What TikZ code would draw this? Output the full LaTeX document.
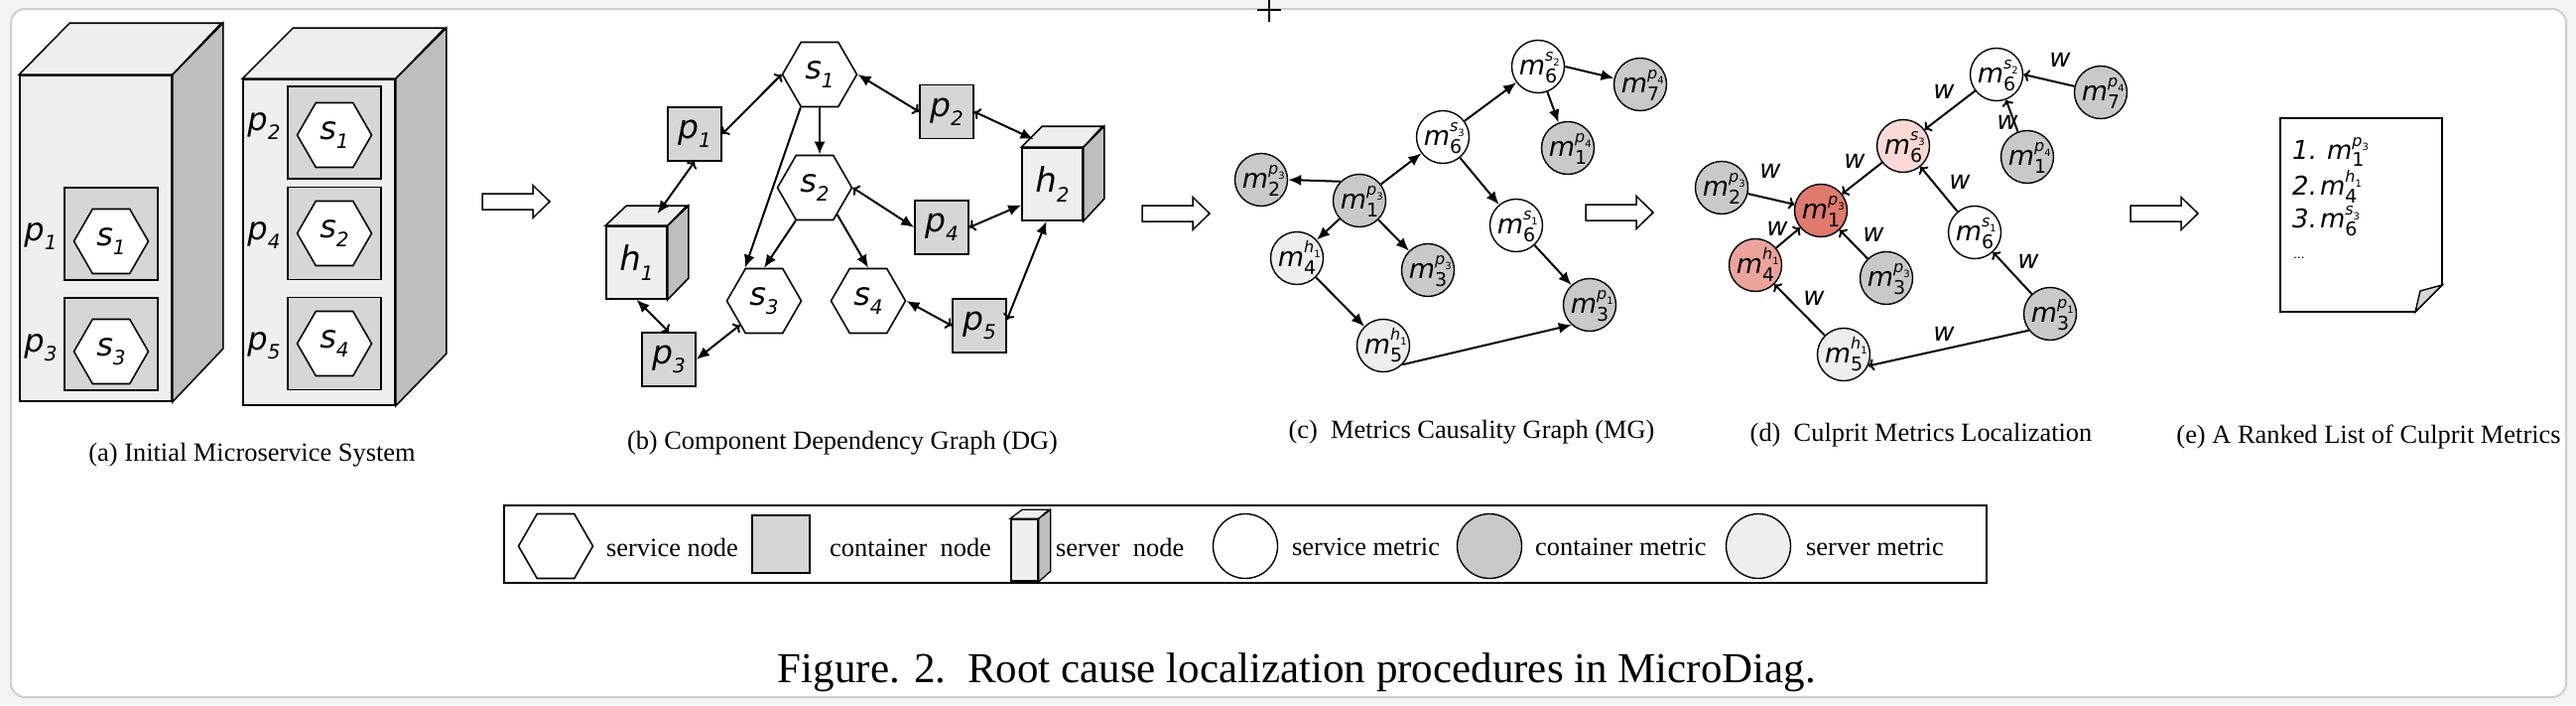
\documentclass[tikz,border=0pt]{standalone}
\usepackage{fontspec}
\setmainfont{Liberation Serif}
\newfontfamily\nf{DejaVu Sans}
\usetikzlibrary{arrows.meta,shapes.geometric}
\definecolor{contc}{HTML}{D6D6D6}
\definecolor{frontc}{HTML}{EFEFEF}
\definecolor{sidec}{HTML}{BEBEBE}
\definecolor{cmetc}{HTML}{C9C9C9}
\definecolor{smetc}{HTML}{EEEEEE}
\definecolor{redA}{HTML}{E07A6E}
\definecolor{redB}{HTML}{EBA39B}
\definecolor{redC}{HTML}{F9D8D6}
\definecolor{framec}{HTML}{CFCFCF}
\definecolor{outerc}{HTML}{F3F3F3}
% label macros
\newcommand{\slab}[2]{{\nf\itshape #1\raisebox{-0.28em}{\fontsize{20}{20}\selectfont #2}}}
\newcommand{\metx}[3]{{\nf\itshape m\makebox[0pt][l]{\raisebox{0.5em}{\fontsize{16}{16}\selectfont #2\raisebox{-0.3em}{\fontsize{10}{10}\selectfont\upshape #3}}}\raisebox{-0.3em}{\fontsize{19}{19}\selectfont\upshape #1}}}
\newcommand{\met}[3]{\makebox[0pt]{\raisebox{-0.3em}[0pt][0pt]{\metx{#1}{#2}{#3}}}}
\tikzset{
  thn/.tip={To[length=6pt,width=12pt]},
  fil/.tip={Latex[length=13pt,width=11pt]},
}
\begin{document}
\begin{tikzpicture}[x=1pt,y=-1pt,
  face/.style={draw, line width=1.6pt, line join=miter},
  frontbox/.style={rectangle, draw, fill=frontc, line width=1.6pt, inner sep=0pt},
  contbox/.style={rectangle, draw, fill=contc, line width=1.6pt, inner sep=0pt},
  hexnode/.style={regular polygon, regular polygon sides=6, minimum size=75pt, inner sep=0pt, draw, fill=white, line width=1.6pt, font=\fontsize{32}{32}\selectfont},
  bcont/.style={contbox, minimum size=54pt, font=\fontsize{33}{33}\selectfont},
  albl/.style={inner sep=0pt, font=\fontsize{32}{32}\selectfont},
  metnode/.style={circle, draw, line width=1.4pt, minimum size=53pt, inner sep=0pt, font=\fontsize{27}{27}\selectfont},
  svc/.style={metnode, fill=white},
  ctm/.style={metnode, fill=cmetc},
  srm/.style={metnode, fill=smetc},
  ed/.style={line width=2pt},
  wl/.style={inner sep=0pt, font=\fontsize{26}{26}\selectfont\nf\itshape},
  capt/.style={inner sep=0pt, font=\fontsize{26.4}{30}\selectfont},
  ltext/.style={inner sep=0pt, anchor=west, font=\fontsize{26.4}{30}\selectfont},
  outarrow/.pic={\draw[line width=1.5pt, fill=white, line join=miter] (0,-8) -- (51,-8) -- (51,-16.5) -- (68,0) -- (51,16.5) -- (51,8) -- (0,8) -- cycle;}
]
\useasboundingbox (0,0) rectangle (2596,710);
\fill[outerc] (0,0) rectangle (2596,710);
\draw[framec, line width=2pt, fill=white, rounded corners=14pt] (11,9) rectangle (2586,702);
\draw[line width=1.3pt] (1279,0) -- (1279,22) (1267,10) -- (1291,10);

% ---------------- (a) ----------------
\node[frontbox, minimum width=153pt, minimum height=328pt] (srvL) at (96.5,240) {};
\draw[face, fill=frontc] (srvL.north west) -- ++(51,-52) -- ++(153,0) -- (srvL.north east) -- cycle;
\draw[face, fill=sidec] (srvL.north east) -- ++(51,-52) -- ++(0,328) -- (srvL.south east) -- cycle;
\node[frontbox, minimum width=153pt, minimum height=328pt] (srvR) at (321.5,244) {};
\draw[face, fill=frontc] (srvR.north west) -- ++(51,-51) -- ++(153,0) -- (srvR.north east) -- cycle;
\draw[face, fill=sidec] (srvR.north east) -- ++(51,-51) -- ++(0,328) -- (srvR.south east) -- cycle;

\node[contbox, minimum width=94pt, minimum height=93pt] (aP1) at (112,235.5) {};
\node[contbox, minimum width=94pt, minimum height=93pt] (aP3) at (112,346.5) {};
\node[contbox, minimum width=94pt, minimum height=93pt] (aP2) at (337,133.5) {};
\node[contbox, minimum width=94pt, minimum height=93pt] (aP4) at (337,235) {};
\node[contbox, minimum width=94pt, minimum height=93pt] (aP5) at (337,346) {};
\node[hexnode] (aS1) at (112,243) {\slab{s}{1}};
\node[hexnode] (aS3) at (112,354) {\slab{s}{3}};
\node[hexnode] (aS1b) at (337,136) {\slab{s}{1}};
\node[hexnode] (aS2) at (337,235) {\slab{s}{2}};
\node[hexnode] (aS4) at (337,346) {\slab{s}{4}};
\node[albl] (aL1) at (41,238) {\slab{p}{1}};
\node[albl] (aL3) at (41,350) {\slab{p}{3}};
\node[albl] (aL2) at (266,127) {\slab{p}{2}};
\node[albl] (aL4) at (266,237) {\slab{p}{4}};
\node[albl] (aL5) at (266,348) {\slab{p}{5}};
\node[capt] (capA) at (254,458) {(a) Initial Microservice System};

\pic at (486,203) {outarrow};

% ---------------- (b) ----------------
\node[hexnode] (bs1) at (826,75) {\slab{s}{1}};
\node[hexnode] (bs2) at (821,189) {\slab{s}{2}};
\node[hexnode] (bs3) at (770,303) {\slab{s}{3}};
\node[hexnode] (bs4) at (875,303) {\slab{s}{4}};
\node[bcont] (bp1) at (700,135) {\slab{p}{1}};
\node[bcont] (bp2) at (954,112.5) {\slab{p}{2}};
\node[bcont] (bp3) at (674,362) {\slab{p}{3}};
\node[bcont] (bp4) at (949,229) {\slab{p}{4}};
\node[bcont] (bp5) at (987,328) {\slab{p}{5}};
\node[frontbox, minimum width=61pt, minimum height=73pt, font=\fontsize{34}{34}\selectfont] (bh1) at (641.5,264.5) {\slab{h}{1}};
\draw[face, fill=frontc] (bh1.north west) -- ++(21,-20) -- ++(61,0) -- (bh1.north east) -- cycle;
\draw[face, fill=sidec] (bh1.north east) -- ++(21,-20) -- ++(0,73) -- (bh1.south east) -- cycle;
\node[frontbox, minimum width=61pt, minimum height=73pt, font=\fontsize{34}{34}\selectfont] (bh2) at (1060.5,185.5) {\slab{h}{2}};
\draw[face, fill=frontc] (bh2.north west) -- ++(21,-21) -- ++(61,0) -- (bh2.north east) -- cycle;
\draw[face, fill=sidec] (bh2.north east) -- ++(21,-21) -- ++(0,73) -- (bh2.south east) -- cycle;

\draw[ed, thn-thn] (bs1.west) -- (bp1.east);
\draw[ed, thn-fil] (bp1.south) -- ([xshift=21pt,yshift=12pt]bh1.north);
\draw[ed, fil-thn] (bh1.south) -- (bp3.north);
\draw[ed, fil-thn] (bp3.east) -- (bs3.225);
\draw[ed, -fil] (bs1.240) -- (bs3.120);
\draw[ed, -fil] (bs1.south) -- (bs1.south |- bs2.north);
\draw[ed, -fil] (bs2.240) -- (bs3.north);
\draw[ed, -fil] (bs2.310) -- (bs4.north);
\draw[ed, fil-thn] (bs1.east) -- (bp2.west);
\draw[ed, thn-fil] (bp2.east) -- ([xshift=-19pt,yshift=8pt]bh2.north);
\draw[ed, thn-fil] (bs2.east) -- (bp4.west);
\draw[ed, thn-fil] (bp4.east) -- ([yshift=-21pt]bh2.west);
\draw[ed, fil-thn] (bs4.east) -- (bp5.west);
\draw[ed, thn-fil] ([yshift=6pt]bp5.east) -- ([xshift=-6pt]bh2.south);
\node[capt] (capB) at (849,446) {(b) Component Dependency Graph (DG)};

\pic at (1151,215) {outarrow};

% ---------------- (c) ----------------
\node[ctm] (cm2p3) at (1271,181) {\met{2}{p}{3}};
\node[ctm] (cm1p3) at (1370,202) {\met{1}{p}{3}};
\node[svc] (cm6s3) at (1454,138) {\met{6}{s}{3}};
\node[svc] (cm6s2) at (1550,67) {\met{6}{s}{2}};
\node[ctm] (cm7p4) at (1653,85) {\met{7}{p}{4}};
\node[ctm] (cm1p4) at (1580,149) {\met{1}{p}{4}};
\node[svc] (cm6s1) at (1528,227) {\met{6}{s}{1}};
\node[srm] (cm4h1) at (1307,260) {\met{4}{h}{1}};
\node[ctm] (cm3p3) at (1439,272) {\met{3}{p}{3}};
\node[srm] (cm5h1) at (1394,348) {\met{5}{h}{1}};
\node[ctm] (cm3p1) at (1602,307) {\met{3}{p}{1}};
\draw[ed, -fil] (cm1p3.135) -- (cm2p3.east);
\draw[ed, -fil] (cm1p3) -- (cm6s3);
\draw[ed, -fil] (cm6s3) -- (cm6s2);
\draw[ed, -fil] (cm6s2.east) -- (cm7p4);
\draw[ed, -fil] (cm6s2) -- (cm1p4);
\draw[ed, -fil] (cm6s3) -- (cm6s1);
\draw[ed, -fil] (cm6s1) -- (cm3p1);
\draw[ed, -fil] (cm1p3) -- (cm4h1);
\draw[ed, -fil] (cm1p3) -- (cm3p3);
\draw[ed, -fil] (cm4h1) -- (cm5h1);
\draw[ed, -fil] (cm5h1.315) -- (cm3p1.228);
\node[capt] (capC) at (1483,435) {(c)~~Metrics Causality Graph (MG)};

\pic at (1598,214) {outarrow};

% ---------------- (d) ----------------
\node[ctm] (dm2p3) at (1735,189) {\met{2}{p}{3}};
\node[metnode, fill=redA] (dm1p3) at (1835,212) {\met{1}{p}{3}};
\node[metnode, fill=redC] (dm6s3) at (1918,147) {\met{6}{s}{3}};
\node[svc] (dm6s2) at (2012,75) {\met{6}{s}{2}};
\node[ctm] (dm7p4) at (2117,93) {\met{7}{p}{4}};
\node[ctm] (dm1p4) at (2043,158) {\met{1}{p}{4}};
\node[svc] (dm6s1) at (1990,234) {\met{6}{s}{1}};
\node[metnode, fill=redB] (dm4h1) at (1769,267) {\met{4}{h}{1}};
\node[ctm] (dm3p3) at (1901,280) {\met{3}{p}{3}};
\node[srm] (dm5h1) at (1858,357) {\met{5}{h}{1}};
\node[ctm] (dm3p1) at (2066,316) {\met{3}{p}{1}};
\draw[ed, -thn] (dm7p4) -- (dm6s2.east);
\draw[ed, -thn] (dm6s2) -- (dm6s3);
\draw[ed, -thn] (dm1p4) -- (dm6s2);
\draw[ed, -thn] (dm6s3) -- (dm1p3);
\draw[ed, -thn] (dm2p3) -- (dm1p3);
\draw[ed, -thn] (dm6s1) -- (dm6s3);
\draw[ed, -thn] (dm4h1) -- (dm1p3);
\draw[ed, -thn] (dm3p3) -- (dm1p3);
\draw[ed, -thn] (dm3p1) -- (dm6s1);
\draw[ed, -thn] (dm5h1) -- (dm4h1);
\draw[ed, -thn] (dm3p1.218) -- (dm5h1.335);
\node[wl] (w1) at (2076,60) {w};
\node[wl] (w2) at (1959,92) {w};
\node[wl] (w3) at (2023,123) {w};
\node[wl] (w4) at (1869,162) {w};
\node[wl] (w5) at (1784,172) {w};
\node[wl] (w6) at (1975,183) {w};
\node[wl] (w7) at (1791,230) {w};
\node[wl] (w8) at (1888,236) {w};
\node[wl] (w9) at (2044,263) {w};
\node[wl] (w10) at (1828,300) {w};
\node[wl] (w11) at (1959,336) {w};
\node[capt] (capD) at (1936,438) {(d)~~Culprit Metrics Localization};

\pic at (2147,215) {outarrow};

% ---------------- (e) ----------------
\draw[line width=1.6pt, fill=white, line join=miter] (2298,119) -- (2461,119) -- (2461,287) -- (2434,314) -- (2298,314) -- cycle;
\draw[line width=1.4pt, fill=contc, line join=miter] (2434,314) -- (2461,287) -- (2439,293) -- cycle;
\node[inner sep=0pt, anchor=west, font=\fontsize{26}{26}\selectfont] (e1) at (2310,153) {{\nf\itshape 1.}\hspace{10pt}\metx{1}{p}{3}};
\node[inner sep=0pt, anchor=west, font=\fontsize{26}{26}\selectfont] (e2) at (2310,188) {{\nf\itshape 2.}\hspace{3pt}\metx{4}{h}{1}};
\node[inner sep=0pt, anchor=west, font=\fontsize{26}{26}\selectfont] (e3) at (2310,223) {{\nf\itshape 3.}\hspace{3pt}\metx{6}{s}{3}};
\node[inner sep=0pt, anchor=west, font=\fontsize{12}{12}\selectfont\nf] (e4) at (2311,260) {...};
\node[capt] (capE) at (2387,440) {(e) A Ranked List of Culprit Metrics};

% ---------------- legend ----------------
\node[draw, line width=2pt, minimum width=1494pt, minimum height=78pt, inner sep=0pt] (legend) at (1255,548) {};
\node[hexnode] (lgHex) at (560,550) {};
\node[ltext] (lgT1) at (611,551) {service node};
\node[contbox, minimum size=58pt] (lgC) at (787,548) {};
\node[ltext] (lgT2) at (836,551) {container~~node};
\node[frontbox, minimum width=27pt, minimum height=62pt] (lgS) at (1032.5,554) {};
\draw[face, line width=1.3pt, fill=frontc] (lgS.north west) -- ++(12,-9) -- ++(27,0) -- (lgS.north east) -- cycle;
\draw[face, line width=1.3pt, fill=sidec] (lgS.north east) -- ++(12,-9) -- ++(0,62) -- (lgS.south east) -- cycle;
\node[ltext] (lgT3) at (1064,551) {server~~node};
\node[metnode, minimum size=65pt, fill=white] (lgM1) at (1255,550) {};
\node[ltext] (lgT4) at (1302,551) {service metric};
\node[metnode, minimum size=65pt, fill=cmetc] (lgM2) at (1501,550) {};
\node[ltext] (lgT5) at (1547,551) {container metric};
\node[metnode, minimum size=65pt, fill=smetc] (lgM3) at (1772,550) {};
\node[ltext] (lgT6) at (1820,551) {server metric};

\node[inner sep=0pt, font=\fontsize{43}{46}\selectfont] (figcap) at (1307,677) {Figure. 2.~~Root cause localization procedures in MicroDiag.};
\end{tikzpicture}
\end{document}
